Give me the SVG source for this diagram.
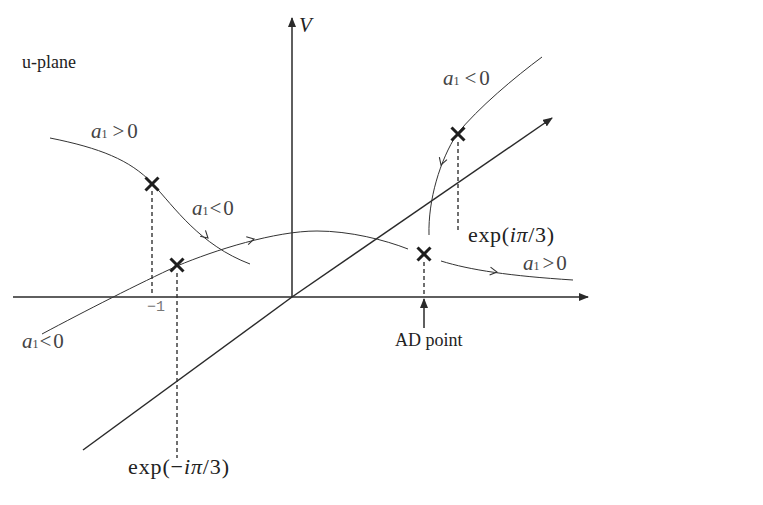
<svg xmlns="http://www.w3.org/2000/svg" width="763" height="505" viewBox="0 0 763 505">
<style>
.axis{stroke:#2a2a2a;stroke-width:1.5;fill:none}
.curve{stroke:#333;stroke-width:1;fill:none}
.dash{stroke:#333;stroke-width:1.4;stroke-dasharray:4,3;fill:none}
.cross{stroke:#1e1e1e;stroke-width:3;fill:none}
.chev{stroke:#333;stroke-width:1.1;fill:none}
.lbl{font-family:"Liberation Serif","DejaVu Serif",serif;fill:#222}
.alab{font-family:"Liberation Serif","DejaVu Serif",serif;fill:#444;font-size:21px}
.sub{font-size:12px}
</style>
<defs>
<marker id="ah" viewBox="0 0 10 8" refX="9" refY="4" markerWidth="10" markerHeight="8" markerUnits="userSpaceOnUse" orient="auto">
<path d="M0,0 L10,4 L0,8 Z" fill="#2a2a2a"/>
</marker>
<path id="chv" d="M-7,-4 L0,0 L-7,4"/>
<g id="x"><line x1="-6.5" y1="-6.5" x2="6.5" y2="6.5"/><line x1="-6.5" y1="6.5" x2="6.5" y2="-6.5"/></g>
</defs>
<rect width="763" height="505" fill="#fff"/>
<g id="connectors">
<line class="axis" x1="13" y1="297" x2="588" y2="297" marker-end="url(#ah)"/>
<line class="axis" x1="292" y1="297" x2="292" y2="18" marker-end="url(#ah)"/>
<line class="axis" x1="83" y1="450" x2="292" y2="297"/>
<line class="axis" x1="292" y1="297" x2="552" y2="118" marker-end="url(#ah)"/>
<path class="curve" d="M50,138 C100,148 130,160 152,183 C175,208 200,245 250,264"/>
<path class="curve" d="M42,334 C85,311 140,283 177,266 C215,250 275,231 317,231 C350,231 385,240 408,249"/>
<path class="curve" d="M441,261 C470,270 510,276 573,280"/>
<path class="curve" d="M542,57 C515,77 478,108 457,134 C440,160 428,200 429,235"/>
<use href="#chv" class="chev" transform="translate(208,238) rotate(42)"/>
<use href="#chv" class="chev" transform="translate(254,239) rotate(-14)"/>
<use href="#chv" class="chev" transform="translate(497,272) rotate(7)"/>
<use href="#chv" class="chev" transform="translate(441,165) rotate(108)"/>
<line class="dash" x1="152" y1="191" x2="152" y2="296"/>
<line class="dash" x1="177" y1="273" x2="177" y2="458"/>
<line class="dash" x1="424" y1="262" x2="424" y2="296"/>
<line class="dash" x1="458" y1="142" x2="458" y2="232"/>
<line class="axis" x1="424" y1="328" x2="424" y2="299" marker-end="url(#ah)"/>
</g>
<g id="cross-1"><use href="#x" class="cross" transform="translate(152,184)"/></g>
<g id="cross-2"><use href="#x" class="cross" transform="translate(177,265)"/></g>
<g id="cross-3"><use href="#x" class="cross" transform="translate(424,254)"/></g>
<g id="cross-4"><use href="#x" class="cross" transform="translate(458,134)"/></g>
<g id="labels">
<text class="lbl" x="22" y="68" font-size="18">u-plane</text>
<text class="lbl" x="299" y="32" font-size="21" font-style="italic">V</text>
<text x="147" y="311" font-family="'Liberation Mono','DejaVu Sans Mono',monospace" font-size="15" fill="#777">−1</text>
<text class="lbl" x="395" y="346" font-size="18">AD point</text>
<text class="lbl" x="468" y="242" font-size="22" textLength="86">exp(<tspan font-style="italic">iπ</tspan>/3)</text>
<text class="lbl" x="128" y="474" font-size="22" textLength="101">exp(−<tspan font-style="italic">iπ</tspan>/3)</text>
<text class="alab" x="91" y="138"><tspan font-style="italic">a</tspan><tspan class="sub">1</tspan><tspan dx="5">&gt;</tspan><tspan dx="3">0</tspan></text>
<text class="alab" x="192" y="215"><tspan font-style="italic">a</tspan><tspan class="sub">1</tspan><tspan dx="1">&lt;</tspan><tspan dx="2">0</tspan></text>
<text class="alab" x="443" y="85"><tspan font-style="italic">a</tspan><tspan class="sub">1</tspan><tspan dx="5">&lt;</tspan><tspan dx="3">0</tspan></text>
<text class="alab" x="523" y="270"><tspan font-style="italic">a</tspan><tspan class="sub">1</tspan><tspan dx="3">&gt;</tspan><tspan dx="2">0</tspan></text>
<text class="alab" x="22" y="348"><tspan font-style="italic">a</tspan><tspan class="sub">1</tspan><tspan dx="1">&lt;</tspan><tspan dx="2">0</tspan></text>
</g>
</svg>
